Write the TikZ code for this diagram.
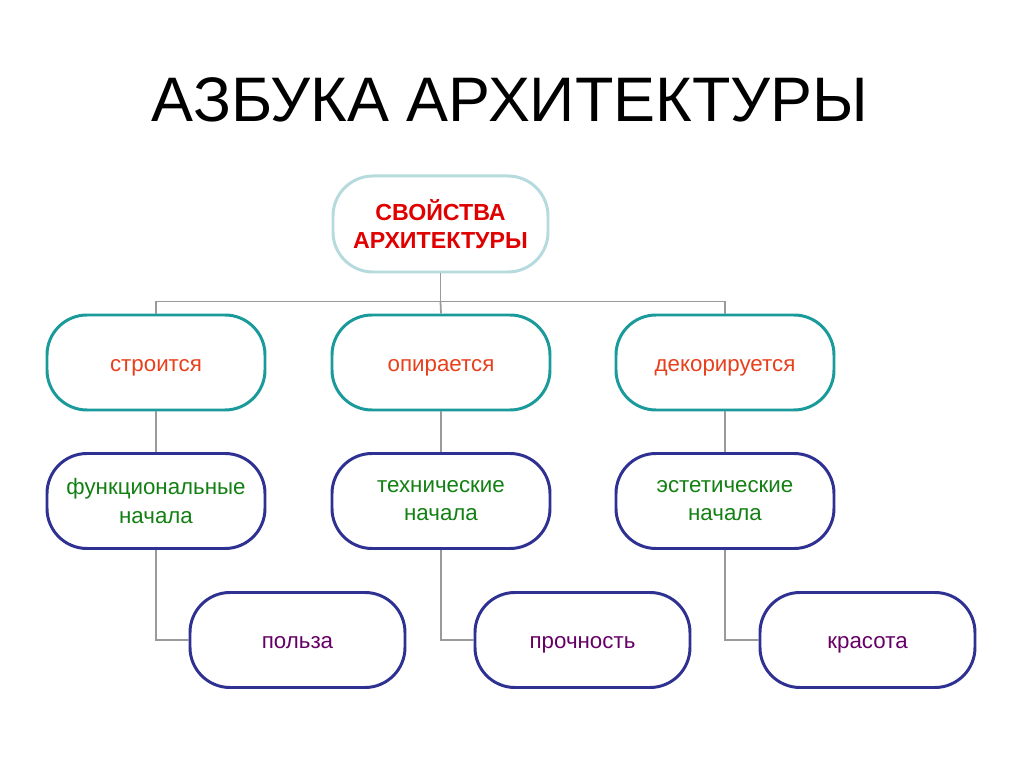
\documentclass[tikz,border=0pt]{standalone}
\usepackage{fontspec}
\setmainfont{Liberation Sans}
\usetikzlibrary{positioning}

\definecolor{topline}{HTML}{B5DBDF}
\definecolor{midline}{HTML}{1A9A9A}
\definecolor{lowline}{HTML}{2E3192}
\definecolor{linkgray}{HTML}{9A9A9A}
\definecolor{txtred}{HTML}{E00000}
\definecolor{txtorange}{HTML}{E8401C}
\definecolor{txtgreen}{HTML}{138013}
\definecolor{txtpurple}{HTML}{660066}

\tikzset{
  pill/.style={draw, line width=1.7pt, fill=white, rounded corners=0.8cm,
    minimum width=4.36cm, minimum height=1.9cm, align=center,
    font=\fontsize{12.7}{16}\selectfont},
  oneline/.style={text height=1.25em, text depth=0.28em},
  rootbox/.style={pill, draw=topline, minimum width=4.3cm, minimum height=1.92cm,
    text=txtred, font=\bfseries\fontsize{13.2}{16}\selectfont},
  actbox/.style={pill, oneline, draw=midline, text=txtorange},
  basebox/.style={pill, draw=lowline, text=txtgreen},
  valbox/.style={pill, oneline, draw=lowline, text=txtpurple, minimum width=4.3cm},
  link/.style={draw=linkgray, line width=1pt}
}

\begin{document}
\begin{tikzpicture}
  \useasboundingbox (0,0) rectangle (20.48,-15.34);

  % title
  \node (title) at (10.2,-2.0) {\fontsize{35.8}{42}\selectfont АЗБУКА АРХИТЕКТУРЫ};

  % root
  \node[rootbox] (root) at (8.81,-4.48) {СВОЙСТВА\\АРХИТЕКТУРЫ};

  % second row
  \node[actbox] (build) at (3.12,-7.25) {строится};
  \node[actbox] (rest) at (8.82,-7.25) {опирается};
  \node[actbox] (decor) at (14.5,-7.25) {декорируется};

  % third row
  \node[basebox] (func) at (3.12,-10.02) {функциональные\\начала};
  \node[basebox] (tech) at (8.82,-10.02) {технические\\начала};
  \node[basebox] (aest) at (14.5,-10.02) {эстетические\\начала};

  % fourth row
  \node[valbox] (use) at (5.95,-12.8) {польза};
  \node[valbox] (firm) at (11.65,-12.8) {прочность};
  \node[valbox] (beauty) at (17.35,-12.8) {красота};

  % links
  \coordinate (bus) at ([yshift=-0.56cm]root.south);
  \draw[link] (root.south) -- (bus);
  \draw[link] (bus) -| (build.north);
  \draw[link] (bus) -| (decor.north);
  \draw[link] (bus) -- (rest.north);
  \draw[link] (build.south) -- (func.north);
  \draw[link] (rest.south) -- (tech.north);
  \draw[link] (decor.south) -- (aest.north);
  \draw[link] (func.south) |- (use.west);
  \draw[link] (tech.south) |- (firm.west);
  \draw[link] (aest.south) |- (beauty.west);
\end{tikzpicture}
\end{document}
